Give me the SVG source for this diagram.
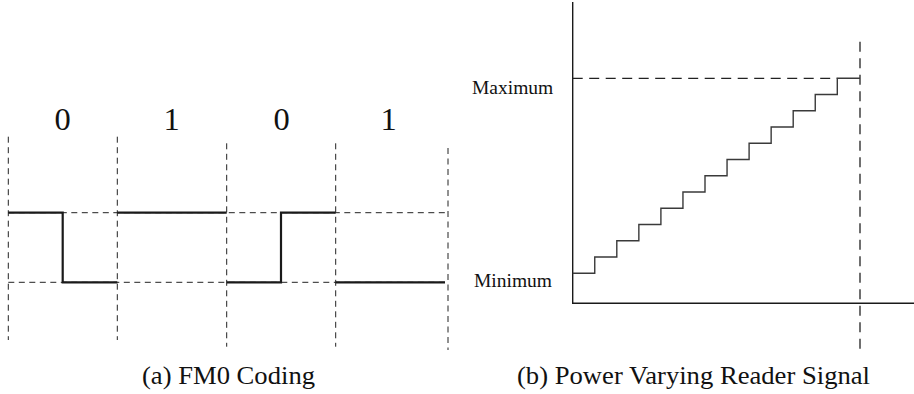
<svg xmlns="http://www.w3.org/2000/svg" width="914" height="394" viewBox="0 0 914 394">
<style>
.dashL{fill:none;stroke:#222;stroke-width:1;stroke-dasharray:6 4.5}
.dashR{fill:none;stroke:#222;stroke-width:1.3;stroke-dasharray:10 6.5}
.sig{fill:none;stroke:#1a1a1a;stroke-width:2.2}
.axis{fill:none;stroke:#1a1a1a;stroke-width:1.4}
.stair{fill:none;stroke:#3a3a3a;stroke-width:1.4}
.bit{font-family:"Liberation Serif",serif;font-size:32.5px;fill:#111;text-anchor:middle}
.lbl{font-family:"Liberation Serif",serif;font-size:19.5px;fill:#111}
.cap{font-family:"Liberation Serif",serif;font-size:24.5px;fill:#111}
</style>
<rect width="914" height="394" fill="#fff"/>
<g id="fm0-grid">
<path class="dashL" d="M8.3 136.7V340M117.3 136.7V340M226.7 143.3V346.7M335.7 143.3V346.7M448 148V350"/>
<path class="dashL" d="M8.3 212.7H448M8.3 282.3H448"/>
</g>
<g id="fm0-bits">
<text class="bit" x="62.5" y="130">0</text>
<text class="bit" x="171.7" y="130">1</text>
<text class="bit" x="281.5" y="130">0</text>
<text class="bit" x="388.5" y="130">1</text>
</g>
<g id="fm0-signal">
<path class="sig" d="M8.3 212.7H62.7V282.3H117.3M117.3 212.7H226.7M226.7 282.3H281V212.7H335.7M335.7 282.3H445"/>
</g>
<g id="caption-a">
<text class="cap" x="142" y="384" textLength="173" lengthAdjust="spacingAndGlyphs">(a) FM0 Coding</text>
</g>
<g id="power-axes">
<path class="axis" d="M572.7 2V303.3H914"/>
</g>
<g id="power-guides">
<path class="dashR" d="M572.7 78.3H837.3M860 41.7V353.3"/>
</g>
<g id="power-stair">
<path class="stair" d="M572.7 273.3H594.75V257.05H616.8V240.8H638.85V224.55H660.9V208.3H682.95V192.05H705V175.8H727.05V159.55H749.1V143.3H771.15V127.05H793.2V110.8H815.25V94.55H837.3V78.3H860"/>
</g>
<g id="labels">
<text class="lbl" x="472" y="94">Maximum</text>
<text class="lbl" x="474" y="287">Minimum</text>
</g>
<g id="caption-b">
<text class="cap" x="517" y="384" textLength="353" lengthAdjust="spacingAndGlyphs">(b) Power Varying Reader Signal</text>
</g>
</svg>
